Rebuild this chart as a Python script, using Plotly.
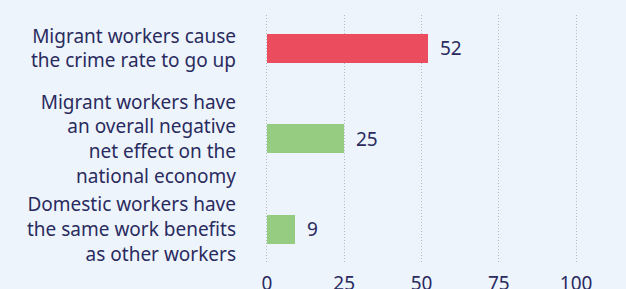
import plotly.graph_objects as go

categories = [
    "Migrant workers cause<br>the crime rate to go up",
    "Migrant workers have<br>an overall negative<br>net effect on the<br>national economy",
    "Domestic workers have<br>the same work benefits<br>as other workers",
]
values = [52, 25, 9]
bar_colors = ["#eb4d5f", "#95cc82"]
colors = [bar_colors[0], bar_colors[1], bar_colors[1]]
x_ticks = [0, 25, 50, 75, 100]

TEXT = "#2a2b5e"
BG = "#edf4fc"
FONT = "Noto Sans"
FS = 19

fig = go.Figure()
fig.add_trace(go.Bar(
    x=values, y=categories, orientation="h",
    marker=dict(color=colors, line=dict(width=0)),
    width=0.32, hoverinfo="skip",
))
for c, v in zip(categories, values):
    fig.add_annotation(x=v, y=c, text=str(v), showarrow=False,
                       xanchor="left", xshift=10,
                       font=dict(family=FONT, size=FS, color=TEXT))

fig.update_layout(
    width=626, height=289,
    margin=dict(l=265, r=48, t=15, b=27, autoexpand=False),
    paper_bgcolor=BG, plot_bgcolor=BG,
    font=dict(family=FONT, size=FS, color=TEXT),
    showlegend=False,
    bargap=0,
)
fig.update_xaxes(
    range=[-0.6, 100.6], tickvals=x_ticks, showgrid=True,
    gridcolor="#b3b8c2", griddash="1px,2px", gridwidth=1,
    zeroline=False, showline=False, ticks="",
    ticklabelstandoff=8, automargin=False,
    tickfont=dict(family=FONT, size=FS, color=TEXT),
    fixedrange=True,
)
fig.update_yaxes(
    range=[2.36, -0.37], showgrid=False, zeroline=False, showline=False,
    ticks="", ticklabelstandoff=28, automargin=False,
    tickfont=dict(family=FONT, size=FS, color=TEXT),
    fixedrange=True,
)
fig.write_html(
    "out.html",
    config={"displayModeBar": False, "staticPlot": True},
    post_script="document.body.style.margin='0';document.body.style.background='#edf4fc';document.body.style.overflow='hidden';",
)
